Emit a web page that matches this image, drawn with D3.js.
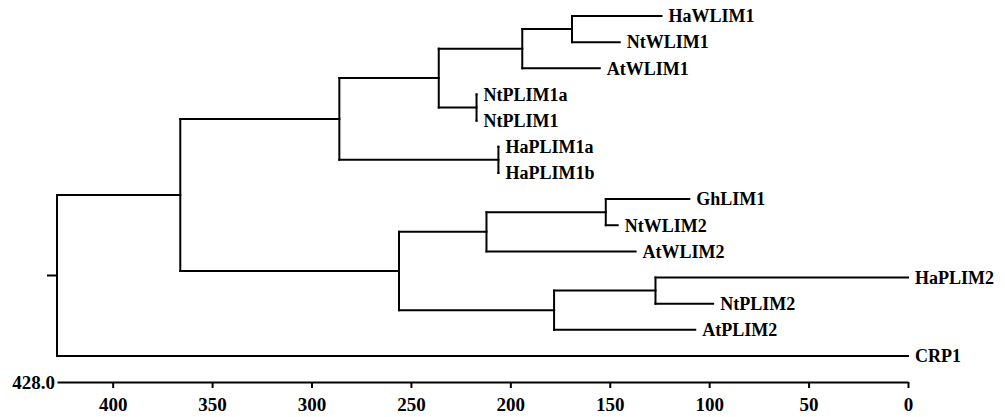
<!DOCTYPE html>
<html lang="en">
<head>
<meta charset="UTF-8">
<title>LIM tree</title>
<style>
    body { margin: 0; background: #fff; }
    svg#tree { display: block; }
    .link { fill: none; stroke: #000; stroke-width: 2; stroke-linecap: square; }
    .leaf-label, .axis text, .axis-start {
        font-family: "Liberation Serif", "Times New Roman", serif;
        font-weight: bold;
        fill: #000;
    }
    .leaf-label { font-size: 18px; }
    .axis text, .axis-start { font-size: 19px; }
    .axis path, .axis line { stroke: #000; stroke-width: 2; }
</style>
</head>
<body>
<svg id="tree"></svg>
<script src="https://cdnjs.cloudflare.com/ajax/libs/d3/7.8.5/d3.min.js"></script>
<script>
    // tree nodes, parents and node heights (distance scale)
    var nodeIds = ["root", "n1", "CRP1", "n2", "n3", "n4", "n5", "n6", "n7", "n8",
        "HaWLIM1", "NtWLIM1", "AtWLIM1", "NtPLIM1a", "NtPLIM1", "HaPLIM1a", "HaPLIM1b",
        "n9", "n10", "n11", "GhLIM1", "NtWLIM2", "AtWLIM2", "n12", "HaPLIM2", "NtPLIM2", "AtPLIM2"];
    var nodeParents = ["", "root", "root", "n1", "n1", "n2", "n2", "n4", "n4", "n6",
        "n8", "n8", "n6", "n7", "n7", "n5", "n5",
        "n3", "n3", "n9", "n11", "n11", "n9", "n10", "n12", "n12", "n10"];
    var nodeHeights = [428, 366, 0, 286, 256, 236, 206, 194, 217, 169,
        124, 145, 155, 217, 217, 206, 206,
        212, 178, 152, 110, 146, 137, 127, 0, 98, 107];

    var tickValues = [400, 350, 300, 250, 200, 150, 100, 50, 0];
    var axisStartLabel = "428.0";

    var width = 1005, height = 417;

    var svg = d3.select("#tree")
        .attr("width", width)
        .attr("height", height);

    var rows = nodeIds.map(function(id, i) {
        return { id: id, parent: nodeParents[i] || null, h: nodeHeights[i] };
    });

    var root = d3.stratify()
        .id(function(d) { return d.id; })
        .parentId(function(d) { return d.parent; })(rows);

    var leaves = root.leaves().map(function(d) { return d.id; });

    var x = d3.scaleLinear().domain([428, 0]).range([57, 908]);
    var y = d3.scalePoint().domain(leaves).range([16, 356]);

    // leaf rows, internal nodes centred on first/last child
    root.eachAfter(function(d) {
        if (!d.children) d.y = y(d.id);
        else d.y = (d.children[0].y + d.children[d.children.length - 1].y) / 2;
        d.x = x(d.data.h);
    });

    var g = svg.append("g");

    // vertical bars
    g.selectAll(".vbar")
        .data(root.descendants().filter(function(d) { return d.children; }))
        .enter().append("line")
        .attr("class", "link")
        .attr("x1", function(d) { return d.x; })
        .attr("x2", function(d) { return d.x; })
        .attr("y1", function(d) { return d.children[0].y; })
        .attr("y2", function(d) { return d.children[d.children.length - 1].y; });

    // horizontal branches
    g.selectAll(".hbar")
        .data(root.descendants().filter(function(d) { return d.parent; }))
        .enter().append("line")
        .attr("class", "link")
        .attr("x1", function(d) { return d.parent.x; })
        .attr("x2", function(d) { return d.x; })
        .attr("y1", function(d) { return d.y; })
        .attr("y2", function(d) { return d.y; });

    // root stub
    g.append("line")
        .attr("class", "link")
        .attr("x1", root.x - 9)
        .attr("x2", root.x)
        .attr("y1", root.y)
        .attr("y2", root.y);

    // leaf labels
    g.selectAll(".leaf-label")
        .data(root.leaves())
        .enter().append("text")
        .attr("class", "leaf-label")
        .attr("x", function(d) { return d.x + 7; })
        .attr("y", function(d) { return d.y; })
        .attr("dy", "0.35em")
        .text(function(d) { return d.id; });

    // axis
    var axisY = 382;
    var axis = svg.append("g")
        .attr("class", "axis")
        .attr("transform", "translate(0," + axisY + ")")
        .call(d3.axisBottom(x).tickValues(tickValues).tickSize(6).tickSizeOuter(0).tickPadding(10));

    svg.append("text")
        .attr("class", "axis-start")
        .attr("x", x(428) - 2)
        .attr("y", axisY)
        .attr("dy", "0.35em")
        .style("text-anchor", "end")
        .text(axisStartLabel);
</script>
</body>
</html>
